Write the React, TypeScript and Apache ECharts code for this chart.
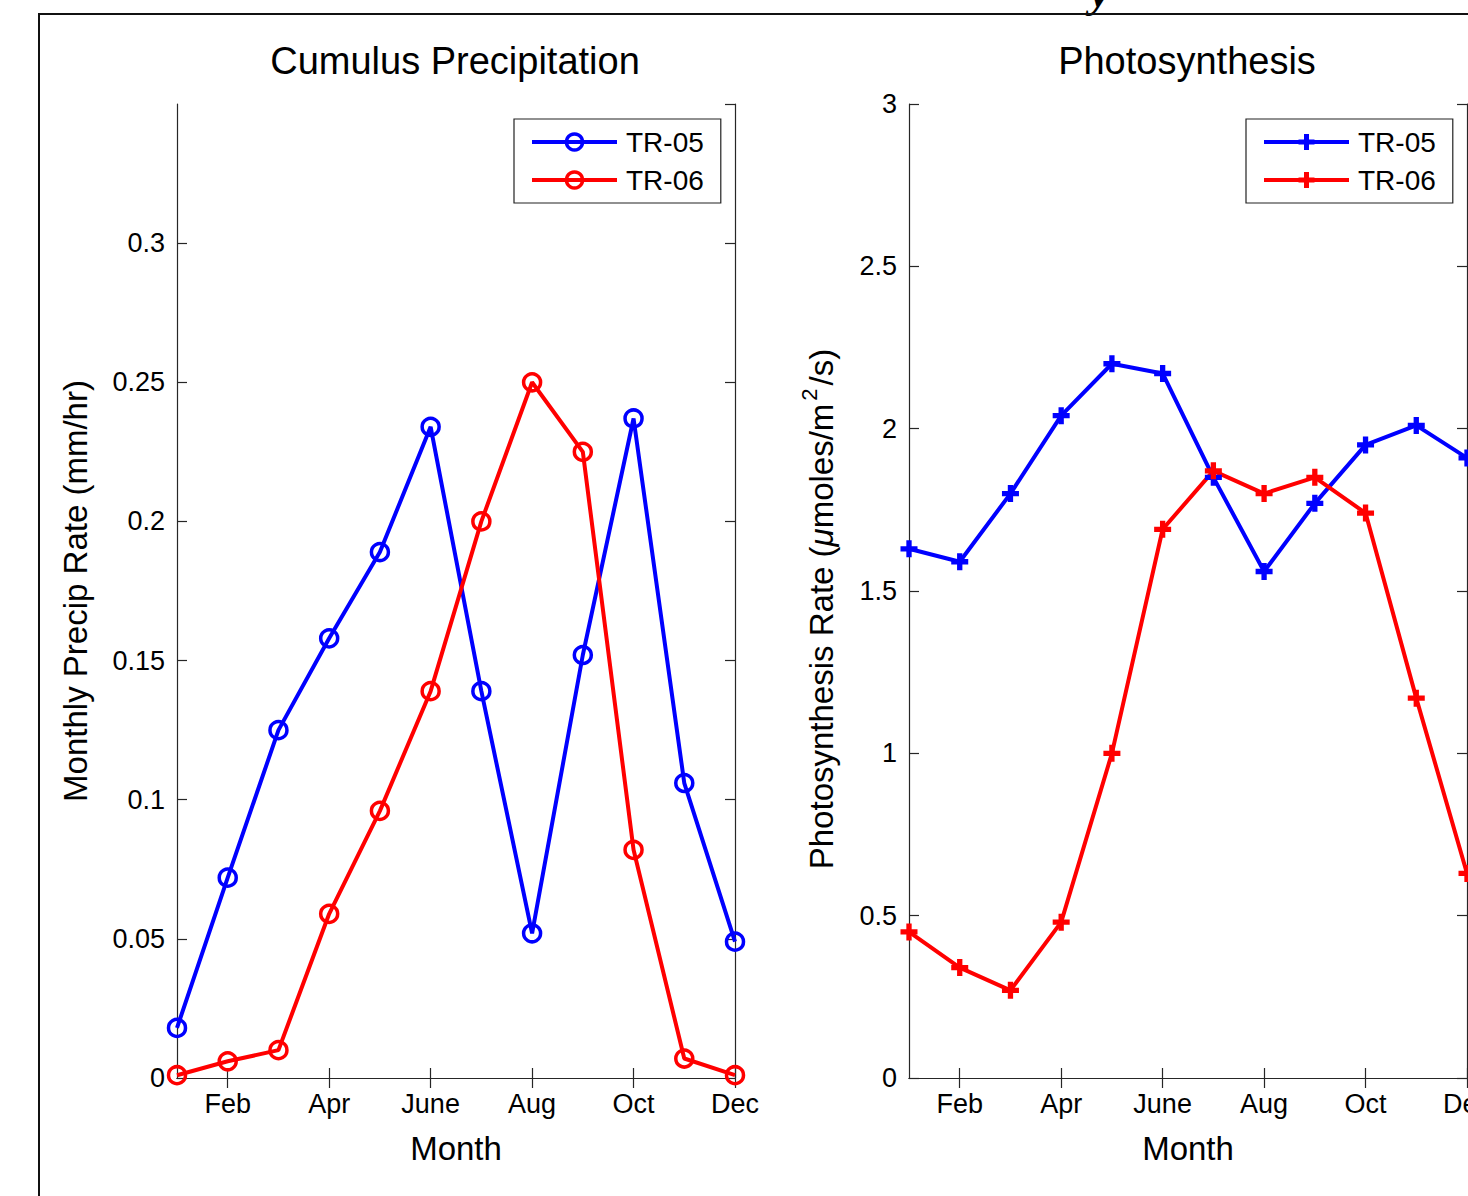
import React, { useEffect, useRef } from 'react';
import * as echarts from 'echarts';

const months = ['Jan', 'Feb', 'Mar', 'Apr', 'May', 'June', 'July', 'Aug', 'Sep', 'Oct', 'Nov', 'Dec'];
const precipTR05 = [0.018, 0.072, 0.125, 0.158, 0.189, 0.234, 0.139, 0.052, 0.152, 0.237, 0.106, 0.049];
const precipTR06 = [0.001, 0.006, 0.01, 0.059, 0.096, 0.139, 0.2, 0.25, 0.225, 0.082, 0.007, 0.001];
const photoTR05 = [1.63, 1.59, 1.8, 2.04, 2.2, 2.17, 1.85, 1.56, 1.77, 1.95, 2.01, 1.91];
const photoTR06 = [0.45, 0.34, 0.27, 0.48, 1.0, 1.69, 1.87, 1.8, 1.85, 1.74, 1.17, 0.63];
const seriesNames = ['TR-05', 'TR-06'];

const FONT = 'Liberation Sans';
const AXIS_COLOR = '#262626';
const BLUE = '#0000ff';
const RED = '#ff0000';
const plusPath = 'path://M5.5,0h5v5.5h5.5v5h-5.5v5.5h-5v-5.5h-5.5v-5h5.5z';

const oddIdx = (i: number) => i % 2 === 1;

function catAxis(gridIndex: number, position: 'top' | 'bottom', withLabels: boolean) {
  return {
    type: 'category',
    gridIndex,
    position,
    data: months,
    boundaryGap: false,
    axisLine: { show: true, lineStyle: { color: AXIS_COLOR, width: 1.2 } },
    axisTick: { show: true, inside: true, length: 10, interval: oddIdx, lineStyle: { color: AXIS_COLOR, width: 1.2 } },
    axisLabel: withLabels
      ? { show: true, interval: oddIdx, fontSize: 27, fontFamily: FONT, color: '#000', margin: 12, hideOverlap: false }
      : { show: false },
    splitLine: { show: false },
    name: withLabels ? 'Month' : '',
    nameLocation: 'middle',
    nameGap: 54,
    nameTextStyle: { fontSize: 33, fontFamily: FONT, color: '#000' },
  };
}

function valAxis(gridIndex: number, position: 'left' | 'right', max: number, interval: number, withLabels: boolean, extra: any = {}) {
  return {
    type: 'value',
    gridIndex,
    position,
    min: 0,
    max,
    interval,
    axisLine: { show: true, lineStyle: { color: AXIS_COLOR, width: 1.2 } },
    axisTick: { show: true, inside: true, length: 10, lineStyle: { color: AXIS_COLOR, width: 1.2 } },
    axisLabel: withLabels
      ? {
          show: true,
          fontSize: 27,
          fontFamily: FONT,
          color: '#000',
          margin: 12,
          showMaxLabel: false,
          formatter: (v: number) => String(+v.toFixed(2)),
        }
      : { show: false },
    splitLine: { show: false },
    ...extra,
  };
}

function lineSeries(name: string, data: number[], color: string, axisIdx: number, symbol: 'circle' | 'plus') {
  const isCircle = symbol === 'circle';
  return {
    type: 'line',
    name,
    data,
    xAxisIndex: axisIdx,
    yAxisIndex: axisIdx,
    clip: false,
    symbol: isCircle ? 'circle' : plusPath,
    symbolSize: 17,
    showAllSymbol: true,
    lineStyle: { color, width: 4 },
    itemStyle: isCircle
      ? { color: 'rgba(0,0,0,0)', borderColor: color, borderWidth: 3.5 }
      : { color, borderWidth: 0 },
    emphasis: { disabled: true },
  };
}

function legendAt(left: number, data: string[], isCircle: boolean, formatter?: (n: string) => string) {
  return {
    orient: 'vertical',
    left,
    top: 119,
    data,
    selectedMode: false,
    backgroundColor: '#fff',
    borderColor: '#222',
    borderWidth: 1.2,
    borderRadius: 0,
    padding: [9, 17, 9, 16],
    itemWidth: 85,
    itemHeight: 20,
    itemGap: 10,
    lineStyle: { width: 4 },
    itemStyle: isCircle ? { borderWidth: 3.5 } : {},
    textStyle: { fontSize: 28, fontFamily: FONT, color: '#000', lineHeight: 28, padding: [0, 0, 0, 4] },
    ...(formatter ? { formatter } : {}),
  };
}

export default function App() {
  const ref = useRef<HTMLDivElement>(null);
  useEffect(() => {
    if (!ref.current) return;
    const chart = echarts.init(ref.current, undefined, { renderer: 'svg' });
    const psNames = seriesNames.map((n) => n + ' (PS)');
    chart.setOption({
      animation: false,
      backgroundColor: '#fff',
      textStyle: { fontFamily: FONT, color: '#000' },
      grid: [
        { left: 177, top: 104, width: 558, height: 974, outerBoundsMode: 'none', containLabel: false },
        { left: 909, top: 104, width: 558, height: 974, outerBoundsMode: 'none', containLabel: false },
      ],
      xAxis: [catAxis(0, 'bottom', true), catAxis(0, 'top', false), catAxis(1, 'bottom', true), catAxis(1, 'top', false)],
      yAxis: [
        valAxis(0, 'left', 0.35, 0.05, true, {
          name: 'Monthly Precip Rate (mm/hr)',
          nameLocation: 'middle',
          nameGap: 85,
          nameTextStyle: { fontSize: 33, fontFamily: FONT, color: '#000' },
        }),
        valAxis(0, 'right', 0.35, 0.05, false),
        valAxis(1, 'left', 3, 0.5, true, {
          axisLabel: { show: true, fontSize: 27, fontFamily: FONT, color: '#000', margin: 12, formatter: (v: number) => String(+v.toFixed(2)) },
          name: 'Photosynthesis Rate ({mu|μ}moles/m{sup|2}/s)',
          nameLocation: 'middle',
          nameGap: 65,
          nameTextStyle: {
            fontSize: 33,
            fontFamily: FONT,
            color: '#000',
            padding: [0, 36, 0, 0],
            rich: {
              mu: { fontSize: 33, fontFamily: FONT, fontStyle: 'italic', color: '#000' },
              sup: { fontSize: 22, fontFamily: FONT, color: '#000', padding: [0, 3, 24, 3] },
            },
          },
        }),
        valAxis(1, 'right', 3, 0.5, false),
      ],
      legend: [
        legendAt(514, seriesNames, true),
        legendAt(1246, psNames, false, (n: string) => n.replace(' (PS)', '')),
      ],
      series: [
        lineSeries(seriesNames[0], precipTR05, BLUE, 0, 'circle'),
        lineSeries(seriesNames[1], precipTR06, RED, 0, 'circle'),
        lineSeries(psNames[0], photoTR05, BLUE, 2, 'plus'),
        lineSeries(psNames[1], photoTR06, RED, 2, 'plus'),
      ],
      graphic: [
        {
          type: 'rect',
          silent: true,
          shape: { x: 39, y: 14, width: 3000, height: 3000 },
          style: { fill: 'none', stroke: '#111', lineWidth: 2 },
          z: 100,
        },
        {
          type: 'text',
          silent: true,
          x: 1090,
          y: -8,
          style: { text: 'y', font: 'italic bold 44px "Liberation Serif"', fill: '#000', textAlign: 'left', textVerticalAlign: 'middle' },
        },
        {
          type: 'text',
          silent: true,
          x: 455,
          y: 61,
          style: { text: 'Cumulus Precipitation', font: '38px "Liberation Sans"', fill: '#000', textAlign: 'center', textVerticalAlign: 'middle' },
        },
        {
          type: 'text',
          silent: true,
          x: 1187,
          y: 61,
          style: { text: 'Photosynthesis', font: '38px "Liberation Sans"', fill: '#000', textAlign: 'center', textVerticalAlign: 'middle' },
        },
      ],
    });
    return () => chart.dispose();
  }, []);
  return <div ref={ref} style={{ position: 'absolute', left: 0, top: 0, width: 1468, height: 1196 }} />;
}
